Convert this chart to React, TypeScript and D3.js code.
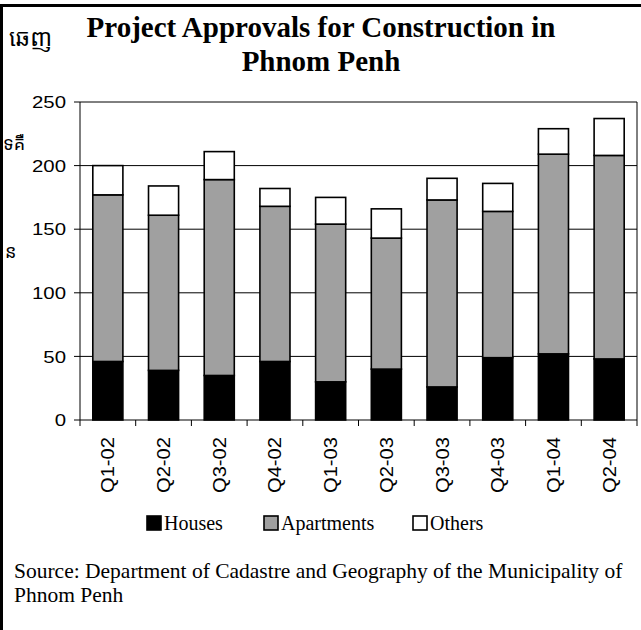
import React from "react";
import * as d3 from "d3";

const categories = ["Q1-02","Q2-02","Q3-02","Q4-02","Q1-03","Q2-03","Q3-03","Q4-03","Q1-04","Q2-04"];
const houses = [46, 39, 35, 46, 30, 40, 26, 49, 52, 48];
const apartments = [131, 122, 154, 122, 124, 103, 147, 115, 157, 160];
const others = [23, 23, 22, 14, 21, 23, 17, 22, 20, 29];
const seriesNames = ["Houses", "Apartments", "Others"];
const seriesColors = ["#000000", "#a0a0a0", "#ffffff"];
const yTicks = [0, 50, 100, 150, 200, 250];
const titleLines = ["Project Approvals for Construction in", "Phnom Penh"];
const sourceLines = ["Source: Department of Cadastre and Geography of the Municipality of", "Phnom Penh"];

const W = 641, H = 630;
const L = 80, R = 637, T = 102, B = 420;

export default function App() {
  const x = d3.scaleBand<string>().domain(categories).range([L, R]).paddingInner(0.46).paddingOuter(0.23);
  const y = d3.scaleLinear().domain([0, 250]).range([B, T]);
  const rows = categories.map((c, i) => ({ cat: c, Houses: houses[i], Apartments: apartments[i], Others: others[i] }));
  const stacked = d3.stack<any>().keys(seriesNames)(rows);
  const step = x.step();
  const boundaries = d3.range(categories.length + 1).map(i => L + i * step);
  const khmer = "'Noto Sans Khmer','Khmer OS','Khmer OS System',sans-serif";

  return (
    <svg width={W} height={H} style={{ position: "absolute", left: 0, top: 0, background: "#fff" }}>
      <rect x={0} y={0} width={W} height={H} fill="#fff" />

      {/* Khmer fragments */}
      <text x={9} y={46} fontFamily={khmer} fontSize={23}>ឆេញ</text>
      <text x={3} y={150} fontFamily={khmer} fontSize={18}>ទគឺ</text>
      <text x={5} y={258} fontFamily={khmer} fontSize={18}>ន</text>

      {/* frame */}
      <line x1={0} x2={W} y1={5.5} y2={5.5} stroke="#000" strokeWidth={3} />
      <line x1={1.5} x2={1.5} y1={4} y2={H} stroke="#000" strokeWidth={3} />

      {/* title */}
      {titleLines.map((t, i) => (
        <text key={i} x={321} y={37 + i * 34} textAnchor="middle" fontFamily="'Liberation Serif','Times New Roman',serif" fontWeight="bold" fontSize={29}>{t}</text>
      ))}

      {/* gridlines */}
      {yTicks.filter(v => v > 0).map(v => (
        <line key={v} x1={L} x2={R} y1={y(v)} y2={y(v)} stroke="#000" strokeWidth={1} />
      ))}
      <line x1={R} x2={R} y1={T} y2={B} stroke="#000" strokeWidth={1} />

      {/* bars */}
      {stacked.map((s, si) => (
        <g key={s.key}>
          {s.map((d, i) => (
            <rect key={i} x={x(categories[i])!} width={x.bandwidth()} y={y(d[1])} height={y(d[0]) - y(d[1])}
              fill={seriesColors[si]} stroke="#000" strokeWidth={1.6} />
          ))}
        </g>
      ))}

      {/* axes */}
      <line x1={L} x2={L} y1={T} y2={B} stroke="#000" strokeWidth={1} />
      <line x1={L} x2={R} y1={B} y2={B} stroke="#000" strokeWidth={1} />
      {yTicks.map(v => (
        <g key={v}>
          <line x1={L - 6} x2={L} y1={y(v)} y2={y(v)} stroke="#000" />
          <text transform={`translate(66,${y(v)}) scale(1.2,1)`} textAnchor="end" dy="0.36em" fontFamily="'Liberation Sans',Arial,sans-serif" fontSize={17}>{v}</text>
        </g>
      ))}
      {boundaries.map((bx, i) => (
        <line key={i} x1={bx} x2={bx} y1={B} y2={B + 6} stroke="#000" />
      ))}
      {categories.map(c => (
        <text key={c} transform={`translate(${x(c)! + x.bandwidth() / 2},437) rotate(-90) scale(1.12,1)`} textAnchor="end" dy="0.36em"
          fontFamily="'Liberation Sans',Arial,sans-serif" fontSize={18}>{c}</text>
      ))}

      {/* legend */}
      {seriesNames.map((n, i) => {
        const lx = [147, 264, 413][i];
        return (
          <g key={n}>
            <rect x={lx} y={516} width={14} height={14} fill={seriesColors[i]} stroke="#000" strokeWidth={1.6} />
            <text x={lx + 17} y={530} fontFamily="'Liberation Serif','Times New Roman',serif" fontSize={20}>{n}</text>
          </g>
        );
      })}

      {/* source */}
      {sourceLines.map((t, i) => (
        <text key={i} x={14} y={578 + i * 24} fontFamily="'Liberation Serif','Times New Roman',serif" fontSize={21.5}>{t}</text>
      ))}
    </svg>
  );
}
